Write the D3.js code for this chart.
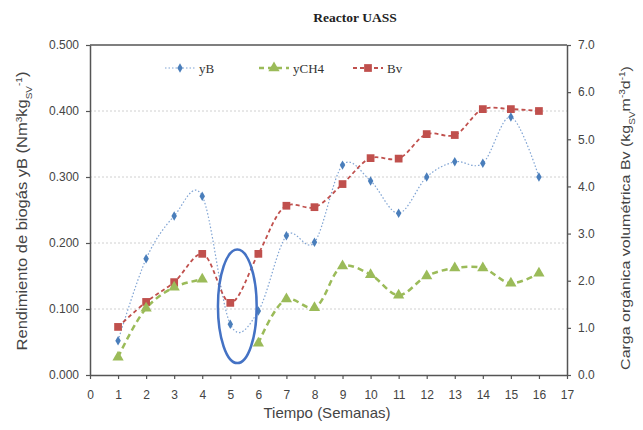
<!DOCTYPE html>
<html>
<head>
<meta charset="utf-8">
<script src="https://cdn.jsdelivr.net/npm/d3@7"></script>
<style>
  html, body { margin: 0; padding: 0; background: #fff; }
  svg { display: block; }
</style>
</head>
<body>
<svg id="chart" width="643" height="430"></svg>
<script>
// Weekly data for the UASS reactor
const weeks = [1, 2, 3, 4, 5, 6, 7, 8, 9, 10, 11, 12, 13, 14, 15, 16];
const yB   = [0.052, 0.176, 0.241, 0.271, 0.077, 0.097, 0.211, 0.201, 0.318, 0.294, 0.245, 0.300, 0.323, 0.321, 0.391, 0.300];
const yCH4 = [0.027, 0.101, 0.133, 0.145, null, 0.048, 0.115, 0.102, 0.165, 0.152, 0.121, 0.150, 0.162, 0.162, 0.139, 0.154];
const Bv   = [1.02, 1.55, 1.97, 2.57, 1.53, 2.57, 3.59, 3.56, 4.05, 4.60, 4.59, 5.11, 5.09, 5.64, 5.64, 5.60];
const xTicks = d3.range(0, 18);
const leftTicks = [0, 0.1, 0.2, 0.3, 0.4, 0.5];
const rightTicks = [0, 1, 2, 3, 4, 5, 6, 7];
// highlighted region around week 5 (centre week, centre yB, half-width in weeks, half-height in yB)
const highlight = { cx: 5.25, cy: 0.104, rx: 0.69, ry: 0.086 };

const svg = d3.select("#chart");
const m = { left: 90, right: 567, top: 45, bottom: 375 };

const x = d3.scaleLinear().domain([0, 17]).range([m.left, m.right]);
const yL = d3.scaleLinear().domain([0, 0.5]).range([m.bottom, m.top]);
const yR = d3.scaleLinear().domain([0, 7]).range([m.bottom, m.top]);

const axisColor = "#555";
const textColor = "#444";
const font = "'Liberation Sans', Arial, sans-serif";
const serif = "'Liberation Serif', 'Times New Roman', serif";

// horizontal gridlines
svg.append("g").selectAll("line")
  .data(leftTicks.filter(d => d > 0 && d < 0.5))
  .join("line")
  .attr("x1", m.left).attr("x2", m.right)
  .attr("y1", d => yL(d)).attr("y2", d => yL(d))
  .attr("stroke", "#d0d0d0").attr("stroke-width", 1)
  .attr("stroke-dasharray", "2,2");

// top frame line
svg.append("line")
  .attr("x1", m.left).attr("x2", m.right)
  .attr("y1", m.top).attr("y2", m.top)
  .attr("stroke", axisColor).attr("stroke-width", 1.5);

function styleAxis(g) {
  g.select(".domain").attr("stroke", axisColor).attr("stroke-width", 1.5);
  g.selectAll(".tick line").attr("stroke", axisColor).attr("stroke-width", 1.2);
  g.selectAll(".tick text").attr("fill", textColor)
    .style("font-family", font).style("font-size", "12px");
}

svg.append("g")
  .attr("transform", `translate(0,${m.bottom})`)
  .call(d3.axisBottom(x).tickValues(xTicks).tickFormat(d3.format("d")).tickSize(4).tickPadding(11).tickSizeOuter(0))
  .call(styleAxis);

svg.append("g")
  .attr("transform", `translate(${m.left},0)`)
  .call(d3.axisLeft(yL).tickValues(leftTicks).tickFormat(d3.format(".3f")).tickSize(4).tickPadding(7).tickSizeOuter(0))
  .call(styleAxis);

svg.append("g")
  .attr("transform", `translate(${m.right},0)`)
  .call(d3.axisRight(yR).tickValues(rightTicks).tickFormat(d3.format(".1f")).tickSize(4).tickPadding(7).tickSizeOuter(0))
  .call(styleAxis);

const smooth = d3.curveCardinal.tension(0);
const soft = d3.curveCatmullRom.alpha(0.5);

// yB series: smooth dotted line with diamonds
const blue = "#4a7ebb";
svg.append("path")
  .datum(weeks.map((w, i) => [w, yB[i]]))
  .attr("fill", "none").attr("stroke", "#7fa3d3").attr("stroke-width", 1.2)
  .attr("stroke-dasharray", "1.5,2")
  .attr("d", d3.line().x(d => x(d[0])).y(d => yL(d[1])).curve(smooth));

// yCH4 series: dashed green line with triangles (no value for week 5)
const green = "#9bbb59";
svg.append("path")
  .datum(weeks.map((w, i) => [w, yCH4[i]]))
  .attr("fill", "none").attr("stroke", green).attr("stroke-width", 2.5)
  .attr("stroke-dasharray", "6,4")
  .attr("d", d3.line().defined(d => d[1] != null).x(d => x(d[0])).y(d => yL(d[1])).curve(soft));

// Bv series: dashed red line with squares (right axis)
const red = "#c0504d";
svg.append("path")
  .datum(weeks.map((w, i) => [w, Bv[i]]))
  .attr("fill", "none").attr("stroke", red).attr("stroke-width", 1.8)
  .attr("stroke-dasharray", "4,3")
  .attr("d", d3.line().x(d => x(d[0])).y(d => yR(d[1])).curve(soft));

const diamond = d3.symbol().type(d3.symbolDiamond).size(26);
const triangle = d3.symbol().type(d3.symbolTriangle).size(55);
const square = d3.symbol().type(d3.symbolSquare).size(60);

svg.append("g").selectAll("path")
  .data(weeks.map((w, i) => [w, Bv[i]]))
  .join("path")
  .attr("d", square)
  .attr("transform", d => `translate(${x(d[0])},${yR(d[1])})`)
  .attr("fill", red);

svg.append("g").selectAll("path")
  .data(weeks.map((w, i) => [w, yCH4[i]]).filter(d => d[1] != null))
  .join("path")
  .attr("d", triangle)
  .attr("transform", d => `translate(${x(d[0])},${yL(d[1])})`)
  .attr("fill", green);

svg.append("g").selectAll("path")
  .data(weeks.map((w, i) => [w, yB[i]]))
  .join("path")
  .attr("d", diamond)
  .attr("transform", d => `translate(${x(d[0])},${yL(d[1])})`)
  .attr("fill", blue);

// highlight ellipse
svg.append("ellipse")
  .attr("cx", x(highlight.cx))
  .attr("cy", yL(highlight.cy))
  .attr("rx", x(highlight.cx + highlight.rx) - x(highlight.cx))
  .attr("ry", yL(0) - yL(highlight.ry))
  .attr("fill", "none").attr("stroke", "#4472c4").attr("stroke-width", 2.5);

// legend
const legendItems = [
  { name: "yB", color: "#7fa3d3", mark: diamond, fill: blue, dash: "1.5,2", w: 1.2, x: 165 },
  { name: "yCH4", color: green, mark: triangle, fill: green, dash: "5,4", w: 2.5, x: 259 },
  { name: "Bv", color: red, mark: square, fill: red, dash: "4,3", w: 1.8, x: 353 }
];
const lg = svg.append("g").attr("transform", "translate(0,68)");
legendItems.forEach(it => {
  const g = lg.append("g").attr("transform", `translate(${it.x},0)`);
  g.append("line").attr("x1", 0).attr("x2", 30).attr("y1", 0).attr("y2", 0)
    .attr("stroke", it.color).attr("stroke-width", it.w).attr("stroke-dasharray", it.dash);
  g.append("path").attr("d", it.mark).attr("transform", "translate(15,0)").attr("fill", it.fill);
  g.append("text").attr("x", 34).attr("y", 4.5)
    .style("font-family", serif).style("font-size", "13px")
    .attr("fill", "#333").text(it.name);
});

// title
svg.append("text")
  .attr("x", 355).attr("y", 22)
  .attr("text-anchor", "middle")
  .style("font-family", serif)
  .style("font-size", "13.5px").style("font-weight", "bold")
  .attr("fill", "#222").text("Reactor UASS");

// x axis title
svg.append("text")
  .attr("x", 327).attr("y", 418)
  .attr("text-anchor", "middle")
  .style("font-family", font).style("font-size", "15px")
  .attr("fill", textColor).text("Tiempo (Semanas)");

// left axis title
const lt = svg.append("text")
  .attr("transform", "translate(27,211) rotate(-90) scale(1,0.85)")
  .attr("text-anchor", "middle")
  .style("font-family", font).style("font-size", "16.5px")
  .attr("fill", textColor);
lt.append("tspan").text("Rendimiento de biogás yB (Nm");
lt.append("tspan").attr("baseline-shift", "super").style("font-size", "10px").text("3");
lt.append("tspan").text("kg");
lt.append("tspan").attr("baseline-shift", "sub").style("font-size", "10px").text("SV");
lt.append("tspan").attr("baseline-shift", "super").style("font-size", "10px").text("-1");
lt.append("tspan").text(")");

// right axis title
const rt = svg.append("text")
  .attr("transform", "translate(630,218) rotate(-90) scale(1,0.85)")
  .attr("text-anchor", "middle")
  .style("font-family", font).style("font-size", "16px")
  .attr("fill", textColor);
rt.append("tspan").text("Carga orgánica volumétrica Bv (kg");
rt.append("tspan").attr("baseline-shift", "sub").style("font-size", "10px").text("SV");
rt.append("tspan").text("m");
rt.append("tspan").attr("baseline-shift", "super").style("font-size", "10px").text("-3");
rt.append("tspan").text("d");
rt.append("tspan").attr("baseline-shift", "super").style("font-size", "10px").text("-1");
rt.append("tspan").text(")");
</script>
</body>
</html>
